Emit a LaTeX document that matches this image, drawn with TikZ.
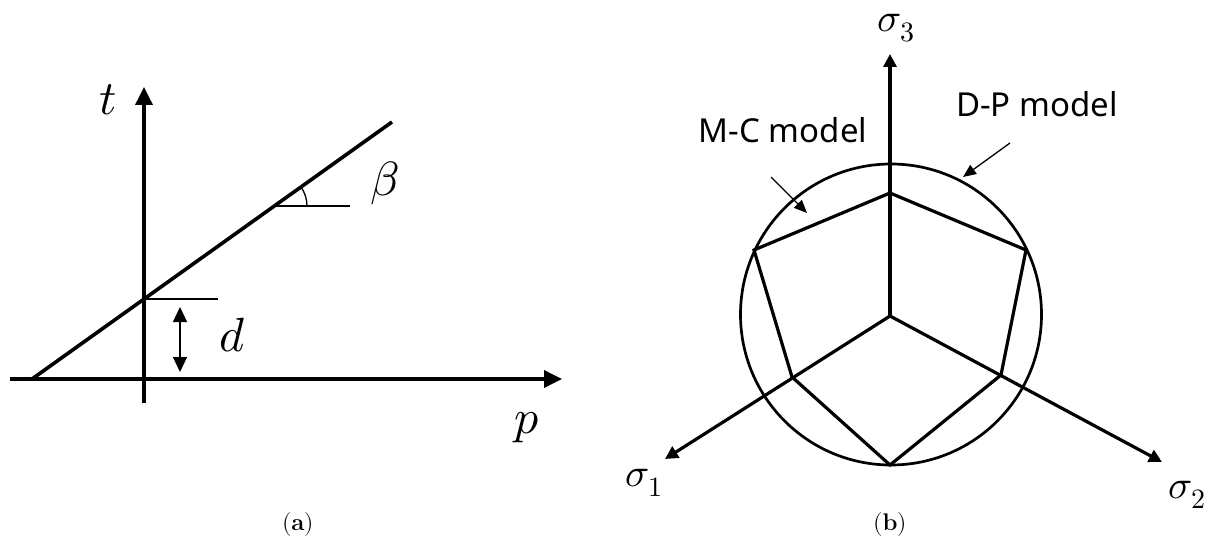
\documentclass[tikz,border=0pt]{standalone}
\usepackage{fontspec}
\usepackage{unicode-math}
\setmathfont{Latin Modern Math}
\newfontfamily\labelsans{Noto Sans}
\usetikzlibrary{arrows.meta}
\begin{document}
\begin{tikzpicture}[x=1pt,y=-1pt,
  thickln/.style={line width=3.6pt},
  bthickln/.style={line width=3.2pt},
  thinln/.style={line width=1.3pt},
  axisarrow/.style={thickln,-{Triangle[width=17pt,length=18pt]}},
  baxisarrow/.style={bthickln,-{Triangle[width=13pt,length=13pt]}},
  smallarrow/.style={thinln,-{Triangle[width=11pt,length=13pt]}},
  mathlbl/.style={inner sep=0pt,font=\fontsize{48}{50}\selectfont},
  sigmalbl/.style={inner sep=0pt,font=\fontsize{40}{42}\selectfont},
  txtlbl/.style={inner sep=0pt,anchor=base,font=\labelsans\fontsize{33}{35}\selectfont},
  caplbl/.style={inner sep=0pt,anchor=base,font=\fontsize{24}{26}\selectfont}]
\path[use as bounding box,fill=white] (0,0) rectangle (1207,553);

% ---------- panel (a) ----------
\coordinate (hx0) at (10,379);
\coordinate (hx1) at (562,379);
\coordinate (vy0) at (144,403);
\coordinate (vy1) at (144,87);
\coordinate (L0) at (32,379);
\coordinate (L1) at (392,122);
\coordinate (I) at (144,299);
\coordinate (Ie) at (218,299);
\coordinate (B) at (274,206);
\coordinate (Be) at (350,206);
\coordinate (Barc) at (307,206);
\coordinate (d0) at (180,307);
\coordinate (d1) at (180,372);

\draw[axisarrow] (hx0) -- (hx1);
\draw[axisarrow] (vy0) -- (vy1);
\draw[thickln] (L0) -- (L1);
\draw[thinln] (I) -- (Ie);
\draw[thinln] (B) -- (Be);
\draw[thinln] (Barc) arc[start angle=0,end angle=-35.5,radius=33];
\draw[thinln,{Triangle[width=14pt,length=15pt]}-{Triangle[width=14pt,length=15pt]}] (d0) -- (d1);

\node[mathlbl] (tl) at (108,100) {$t$};
\node[mathlbl] (pl) at (527,428) {$p$};
\node[mathlbl] (bl) at (385,183) {$\beta$};
\node[mathlbl] (dl) at (233,335) {$d$};
\node[caplbl] (capa) at (298,530) {$\mathbf{(a)}$};

% ---------- panel (b) ----------
\coordinate (C) at (890,316);
\coordinate (S3) at (890,54);
\coordinate (S1) at (665,459);
\coordinate (S2) at (1162,462);
\coordinate (Ht) at (890,193);
\coordinate (Hur) at (1026,250);
\coordinate (Hlr) at (1001,375);
\coordinate (Hb) at (890,465);
\coordinate (Hll) at (792,377);
\coordinate (Hul) at (754,250);
\coordinate (Ctr) at (891,314.5);

\draw[line width=2.7pt] (Ctr) circle[radius=150.5];
\draw[bthickln,line join=miter] (Ht) -- (Hur) -- (Hlr) -- (Hb) -- (Hll) -- (Hul) -- cycle;
\draw[baxisarrow] (C) -- (S3);
\draw[baxisarrow] (C) -- (S1);
\draw[baxisarrow] (C) -- (S2);

\node[sigmalbl] (s3l) at (896,28) {$\sigma_3$};
\node[sigmalbl] (s1l) at (644,483) {$\sigma_1$};
\node[sigmalbl] (s2l) at (1187,495) {$\sigma_2$};

\node[txtlbl] (mc) at (783,143) {M-C model};
\node[txtlbl] (dp) at (1037,117) {D-P model};
\coordinate (mcA) at (771,177);
\coordinate (mcB) at (807,213);
\coordinate (dpA) at (1010,143);
\coordinate (dpB) at (963,177);
\draw[smallarrow] (mcA) -- (mcB);
\draw[smallarrow] (dpA) -- (dpB);

\node[caplbl] (capb) at (890,530) {$\mathbf{(b)}$};
\end{tikzpicture}
\end{document}
